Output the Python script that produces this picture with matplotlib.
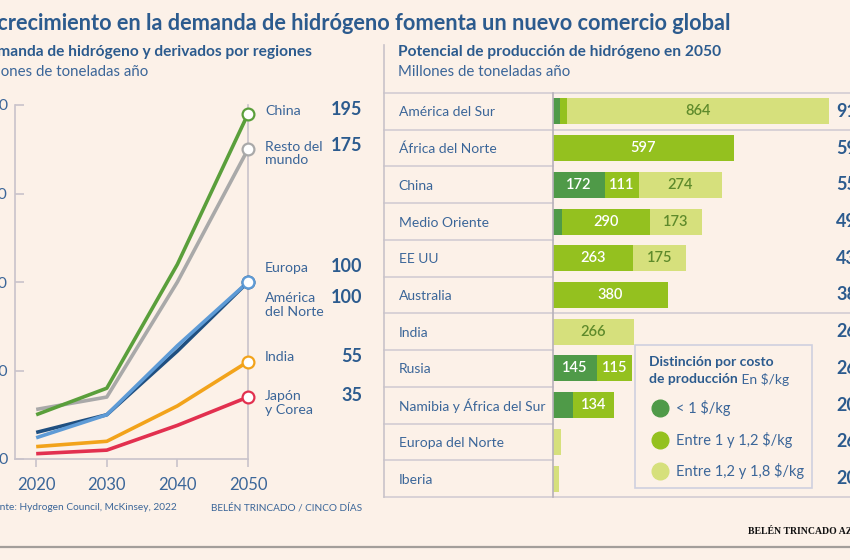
import matplotlib
matplotlib.use("Agg")
import matplotlib.pyplot as plt
import matplotlib.transforms as mtransforms
from matplotlib.lines import Line2D
from matplotlib.patches import Rectangle

plt.rcParams['font.family'] = ['Lato', 'DejaVu Sans']

# ---------------- data ----------------
years = [2020, 2030, 2040, 2050]
china = [25, 40, 110, 195]
resto_mundo = [28, 35, 100, 175]
europa = [12, 25, 64, 100]
america_norte = [15, 25, 61, 100]
india = [7, 10, 30, 55]
japon_corea = [3, 5, 19, 35]
line_names = ["Resto del\nmundo", "China", "América\ndel Norte", "Europa", "India", "Japón\ny Corea"]

regions = ["América del Sur", "África del Norte", "China", "Medio Oriente", "EE UU",
           "Australia", "India", "Rusia", "Namibia y África del Sur",
           "Europa del Norte", "Iberia"]
cost_low = [23, 0, 172, 30, 0, 0, 0, 145, 66, 0, 0]       # < 1 $/kg
cost_mid = [23, 597, 111, 290, 263, 380, 0, 115, 134, 0, 0]  # 1 - 1,2 $/kg
cost_high = [864, 0, 274, 173, 175, 0, 266, 0, 0, 26, 20]  # 1,2 - 1,8 $/kg
legend_labels = ["< 1 $/kg", "Entre 1 y 1,2 $/kg", "Entre 1,2 y 1,8 $/kg"]
y_ticks = [0, 50, 100, 150, 200]

# ---------------- style ----------------
BG = "#fcf1e8"
BLUE = "#2c5b8e"
TXT = "#3b6699"
AXC = "#c9c3cb"
W, H = 850, 560

def fx(px):
    return px / W

def fy(py):
    return 1 - py / H

fig = plt.figure(figsize=(8.5, 5.6), dpi=100, facecolor=BG)

# titles
fig.text(fx(731), fy(24), "El crecimiento en la demanda de hidrógeno fomenta un nuevo comercio global",
         ha='right', va='center', fontsize=15.65, fontweight='bold', color=BLUE)
fig.text(fx(312), fy(52), "Demanda de hidrógeno y derivados por regiones",
         ha='right', va='center', fontsize=11.2, fontweight='bold', color=BLUE)
fig.text(fx(148), fy(72), "Millones de toneladas año",
         ha='right', va='center', fontsize=10.8, color=TXT)
fig.text(fx(398), fy(52), "Potencial de producción de hidrógeno en 2050",
         ha='left', va='center', fontsize=11.2, fontweight='bold', color=BLUE)
fig.text(fx(398), fy(72), "Millones de toneladas año",
         ha='left', va='center', fontsize=10.8, color=TXT)
fig.text(fx(177), fy(508), "Fuente: Hydrogen Council, McKinsey, 2022",
         ha='right', va='center', fontsize=7.3, color=TXT)
fig.text(fx(362), fy(508), "BELÉN TRINCADO / CINCO DÍAS",
         ha='right', va='center', fontsize=7.2, color=TXT)
fig.text(fx(748), fy(531), "BELÉN TRINCADO AZNAR", ha='left', va='center',
         fontsize=7, fontweight='bold', color='#111111', family=['Liberation Serif', 'DejaVu Serif'])

# ---------------- line chart ----------------
ax1 = fig.add_axes([fx(15), fy(459), fx(248) - fx(15), fy(105) - fy(459)])
ax1.set_facecolor(BG)
ax1.set_xlim(2017.0, 2050)
ax1.set_ylim(0, 200)
ax1.spines['top'].set_visible(False)
for s in ['left', 'bottom', 'right']:
    ax1.spines[s].set_color(AXC)
    ax1.spines[s].set_linewidth(1.2)
ax1.set_xticks(years)
ax1.set_yticks(y_ticks)
ax1.tick_params(axis='x', direction='out', length=6, width=1.2, color=AXC,
                labelsize=12, labelcolor=TXT, pad=7)
ax1.tick_params(axis='y', direction='in', length=6.5, width=1.2, color=AXC,
                labelsize=11.5, labelcolor=TXT, pad=5)

series = [resto_mundo, china, america_norte, europa, india, japon_corea]
colors = ["#a9a9a9", "#5a9f3b", "#1f4f80", "#5e9bd6", "#f2a31b", "#e2304f"]
label_y = [175.5, 196, 90, 107, 56.5, 34.5]
shift = mtransforms.ScaledTranslation(0, 7.5 / 100, fig.dpi_scale_trans)
for vals, col, name, ly in zip(series, colors, line_names, label_y):
    ax1.plot(years, vals, color=col, lw=2.6, solid_capstyle='butt', zorder=3)
    ax1.plot(years[-1:], vals[-1:], 'o', ms=8.5, mfc='white', mec=col, mew=1.6,
             zorder=4, clip_on=False)
    ax1.text(2052.4, ly, name, ha='left', va='top', fontsize=10.2, color=TXT,
             linespacing=1.15, clip_on=False, transform=ax1.transData + shift)
    ax1.text(2066.2, ly + 1.5, f"{vals[-1]}", ha='right', va='center', fontsize=13,
             fontweight='bold', color=BLUE, clip_on=False)

# ---------------- bar chart ----------------
ax2 = fig.add_axes([fx(553), fy(497), 1 - fx(553), fy(93) - fy(497)])
ax2.set_facecolor('none')
ax2.set_xlim(0, 297 / 0.303)
ax2.set_ylim(len(regions) - 0.5, -0.5)
for s in ['top', 'right', 'bottom']:
    ax2.spines[s].set_visible(False)
ax2.spines['left'].set_color("#b7b1ba")
ax2.spines['left'].set_linewidth(1.2)
ax2.set_xticks([])
ypos = list(range(len(regions)))
ax2.set_yticks(ypos)
ax2.set_yticklabels(regions)
ax2.tick_params(axis='y', length=0, pad=111, labelsize=10, labelcolor=TXT)
for lab in ax2.get_yticklabels():
    lab.set_ha('left')

c_low, c_mid, c_high = "#4f9a48", "#94c11f", "#d6e07c"
bh = 0.71
left_mid = [a for a in cost_low]
left_high = [a + b for a, b in zip(cost_low, cost_mid)]
ax2.barh(ypos, cost_low, height=bh, color=c_low, zorder=2)
ax2.barh(ypos, cost_mid, left=left_mid, height=bh, color=c_mid, zorder=2)
ax2.barh(ypos, cost_high, left=left_high, height=bh, color=c_high, zorder=2)

for i in ypos:
    segs = [(0, cost_low[i], 'white'), (left_mid[i], cost_mid[i], 'white'),
            (left_high[i], cost_high[i], '#5e8a2b')]
    for start, v, tc in segs:
        if v >= 100:
            ax2.text(start + v / 2, i, f"{v}", ha='center', va='center', fontsize=10.5,
                     color=tc, fontweight='semibold', zorder=3)
    total = cost_low[i] + cost_mid[i] + cost_high[i]
    ax2.text(934, i, f"{total}", ha='left', va='center', fontsize=13,
             fontweight='bold', color=BLUE, clip_on=False)

# separators
xmin_lab = -(553 - 384) / 297
for k in range(len(regions) + 1):
    yv = k - 0.5
    xmax = 1 if k in (0, 1, 6, len(regions)) else 0
    ax2.axhline(yv, xmin=xmin_lab, xmax=xmax, color="#d3ccd3", lw=1.2, clip_on=False, zorder=1)

# panel vertical border
fig.add_artist(Line2D([fx(384), fx(384)], [fy(45), fy(497)], color="#c9c3c9", lw=1.2))
# bottom rule
fig.add_artist(Line2D([0, 1], [fy(547), fy(547)], color="#a39e9a", lw=1.6))

# ---------------- legend (manual) ----------------
ov = fig.add_axes([0, 0, 1, 1], zorder=5)
ov.set_xlim(0, W)
ov.set_ylim(H, 0)
ov.axis('off')
ov.add_patch(Rectangle((635, 345), 177, 143, facecolor=BG, edgecolor="#cfd0df", lw=1.2))
ov.text(649, 362, "Distinción por costo", ha='left', va='center', fontsize=10,
        fontweight='bold', color=BLUE)
t2 = ov.text(649, 379, "de producción", ha='left', va='center', fontsize=10,
             fontweight='bold', color=BLUE)
ov.annotate(" En $/kg", xy=(1, 0.5), xycoords=t2, ha='left', va='center',
            fontsize=10, color=TXT)
for k, (lab, col) in enumerate(zip(legend_labels, [c_low, c_mid, c_high])):
    yy = 408 + k * 31.5
    ov.plot([660], [yy], 'o', ms=12, color=col)
    ov.text(676, yy, lab, ha='left', va='center', fontsize=10.5, color=TXT)

fig.savefig("out.png", dpi=100, facecolor=BG)
